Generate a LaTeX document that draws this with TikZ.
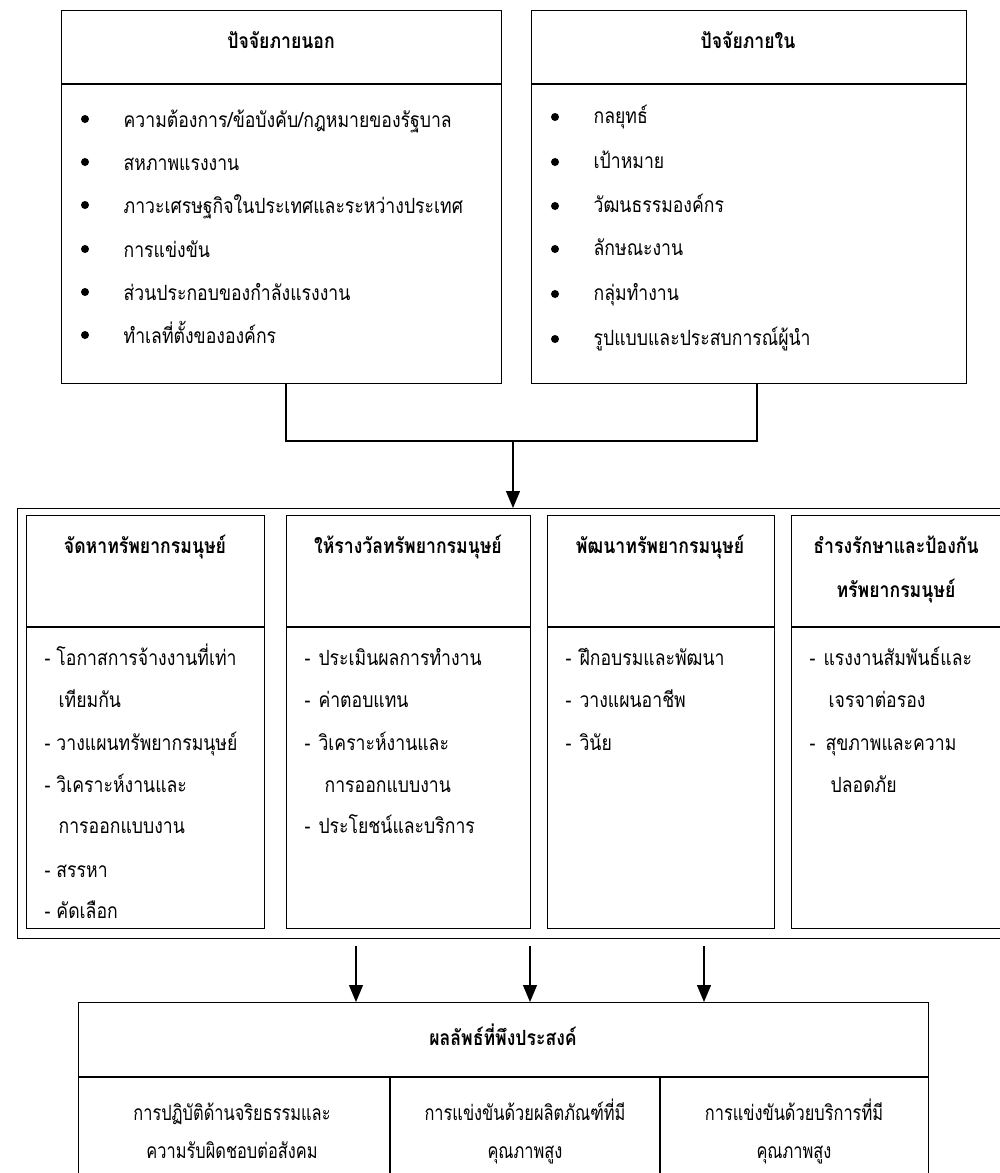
\documentclass[tikz,border=0pt]{standalone}
\usepackage{fontspec}
\usetikzlibrary{arrows.meta}
\newfontfamily\thai[Script=Thai,FakeStretch=0.84]{Loma}
\newfontfamily\thaic[Script=Thai,FakeStretch=0.78]{Loma}
\newcommand\tf{\thai\fontsize{21}{24}\selectfont}
\newcommand\tfb{\thai\bfseries\fontsize{21}{24}\selectfont}
\newcommand\tfc{\thaic\fontsize{21}{24}\selectfont}
\begin{document}
\begin{tikzpicture}[x=1pt,y=-1pt,line width=1.3pt,
  box/.style={draw,line width=1.3pt,inner sep=0pt,anchor=north west},
  it/.style={anchor=base west,inner sep=0pt,font=\tf},
  hd/.style={anchor=base,inner sep=0pt,font=\tfb},
  ct/.style={anchor=base,inner sep=0pt,font=\tfc},
  dot/.style={circle,fill,inner sep=0pt,minimum size=8pt},
  arr/.style={-{Triangle[length=17pt,width=14pt]},line width=1.2pt}]
\path[use as bounding box,clip] (0,0) rectangle (1000,1173);
\fill[white] (0,0) rectangle (1000,1173);

% ---------- top boxes ----------
\node[box,minimum width=440pt,minimum height=373pt] (ext) at (61,10) {};
\draw (61,84) -- (501,84);
\node[hd] (exth) at (281,48) {ปัจจัยภายนอก};
\node[dot] (eb1) at (85,119) {}; \node[it] (e1) at (123,127) {ความต้องการ/ข้อบังคับ/กฎหมายของรัฐบาล};
\node[dot] (eb2) at (85,162) {}; \node[it] (e2) at (123,170) {สหภาพแรงงาน};
\node[dot] (eb3) at (85,205) {}; \node[it] (e3) at (123,213) {ภาวะเศรษฐกิจในประเทศและระหว่างประเทศ};
\node[dot] (eb4) at (85,249) {}; \node[it] (e4) at (123,257) {การแข่งขัน};
\node[dot] (eb5) at (85,292) {}; \node[it] (e5) at (123,300) {ส่วนประกอบของกำลังแรงงาน};
\node[dot] (eb6) at (85,335) {}; \node[it] (e6) at (123,343) {ทำเลที่ตั้งขององค์กร};

\node[box,minimum width=435pt,minimum height=373pt] (int) at (531,10) {};
\draw (531,84) -- (966,84);
\node[hd] (inth) at (748,48) {ปัจจัยภายใน};
\node[dot] (ib1) at (555,117) {}; \node[it] (i1) at (593,123) {กลยุทธ์};
\node[dot] (ib2) at (555,162) {}; \node[it] (i2) at (593,168) {เป้าหมาย};
\node[dot] (ib3) at (555,206) {}; \node[it] (i3) at (593,212) {วัฒนธรรมองค์กร};
\node[dot] (ib4) at (555,249) {}; \node[it] (i4) at (593,255) {ลักษณะงาน};
\node[dot] (ib5) at (555,294) {}; \node[it] (i5) at (593,300) {กลุ่มทำงาน};
\node[dot] (ib6) at (555,339) {}; \node[it] (i6) at (593,345) {รูปแบบและประสบการณ์ผู้นำ};

% ---------- connector to middle ----------
\coordinate (jl) at (286,441);
\coordinate (jr) at (757,441);
\coordinate (jm) at (513,441);
\draw (ext.south -| jl) -- (jl) -- (jr) -- (int.south -| jr);

% ---------- middle container ----------
\node[box,minimum width=1000pt,minimum height=430pt] (hrm) at (17,508) {};
\draw[arr] (jm) -- (jm |- hrm.north);

\node[box,minimum width=238pt,minimum height=413pt] (m1) at (26,515) {};
\node[box,minimum width=244pt,minimum height=413pt] (m2) at (286,515) {};
\node[box,minimum width=227pt,minimum height=413pt] (m3) at (547,515) {};
\node[box,minimum width=212pt,minimum height=413pt] (m4) at (791,515) {};
\draw (m1.west |- 0,627) -- (m1.east |- 0,627);
\draw (m2.west |- 0,627) -- (m2.east |- 0,627);
\draw (m3.west |- 0,627) -- (m3.east |- 0,627);
\draw (m4.west |- 0,627) -- (m4.east |- 0,627);

\node[hd] (m1h) at (145,553) {จัดหาทรัพยากรมนุษย์};
\node[hd] (m2h) at (408,553) {ให้รางวัลทรัพยากรมนุษย์};
\node[hd] (m3h) at (660,553) {พัฒนาทรัพยากรมนุษย์};
\node[hd] (m4h) at (896,553) {ธำรงรักษาและป้องกัน};
\node[hd] (m4h2) at (896,597) {ทรัพยากรมนุษย์};

\node[it] (a1) at (44,665) {- โอกาสการจ้างงานที่เท่า};
\node[it] (a2) at (58,707) {เทียมกัน};
\node[it] (a3) at (44,750) {- วางแผนทรัพยากรมนุษย์};
\node[it] (a4) at (44,792) {- วิเคราะห์งานและ};
\node[it] (a5) at (58,833) {การออกแบบงาน};
\node[it] (a6) at (44,877) {- สรรหา};
\node[it] (a7) at (44,918) {- คัดเลือก};

\node[it] (b1) at (304,665) {-\hspace{8pt}ประเมินผลการทำงาน};
\node[it] (b2) at (304,707) {-\hspace{8pt}ค่าตอบแทน};
\node[it] (b3) at (304,750) {-\hspace{8pt}วิเคราะห์งานและ};
\node[it] (b4) at (324,792) {การออกแบบงาน};
\node[it] (b5) at (304,833) {-\hspace{8pt}ประโยชน์และบริการ};

\node[it] (c1) at (565,665) {-\hspace{8pt}ฝึกอบรมและพัฒนา};
\node[it] (c2) at (565,707) {-\hspace{8pt}วางแผนอาชีพ};
\node[it] (c3) at (565,750) {-\hspace{8pt}วินัย};

\node[it] (d1) at (809,665) {-\hspace{8pt}แรงงานสัมพันธ์และ};
\node[it] (d2) at (828,707) {เจรจาต่อรอง};
\node[it] (d3) at (809,750) {-\hspace{10pt}สุขภาพและความ};
\node[it] (d4) at (830,792) {ปลอดภัย};

% ---------- bottom box ----------
\node[box,minimum width=850pt,minimum height=200pt] (res) at (78,1002) {};
\draw (78,1077) -- (928,1077);
\draw (390,1077) -- (390,1210);
\draw (660,1077) -- (660,1210);
\node[hd] (resh) at (503,1045) {ผลลัพธ์ที่พึงประสงค์};

\coordinate (s1) at (356,946);
\coordinate (s2) at (530,946);
\coordinate (s3) at (704,946);
\draw[arr] (s1) -- (s1 |- res.north);
\draw[arr] (s2) -- (s2 |- res.north);
\draw[arr] (s3) -- (s3 |- res.north);

\node[ct] (r1a) at (232,1120) {การปฏิบัติด้านจริยธรรมและ};
\node[ct] (r1b) at (232,1158) {ความรับผิดชอบต่อสังคม};
\node[ct] (r2a) at (525,1120) {การแข่งขันด้วยผลิตภัณฑ์ที่มี};
\node[ct] (r2b) at (525,1158) {คุณภาพสูง};
\node[ct] (r3a) at (794,1120) {การแข่งขันด้วยบริการที่มี};
\node[ct] (r3b) at (794,1158) {คุณภาพสูง};
\end{tikzpicture}
\end{document}
